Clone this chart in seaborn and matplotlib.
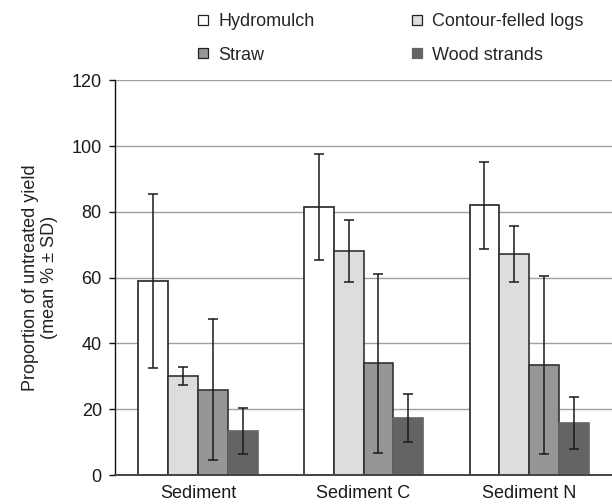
import matplotlib
matplotlib.use("Agg")
import matplotlib.pyplot as plt
import seaborn as sns
import pandas as pd
import numpy as np
from matplotlib.lines import Line2D

categories = ["Sediment", "Sediment C", "Sediment N"]
treatments = ["Hydromulch", "Contour-felled logs", "Straw", "Wood strands"]
means = {
    "Hydromulch": [59.0, 81.5, 82.0],
    "Contour-felled logs": [30.0, 68.0, 67.2],
    "Straw": [26.0, 34.0, 33.5],
    "Wood strands": [13.3, 17.3, 15.8],
}
sds = {
    "Hydromulch": [26.5, 16.0, 13.3],
    "Contour-felled logs": [2.7, 9.4, 8.4],
    "Straw": [21.5, 27.2, 27.1],
    "Wood strands": [7.0, 7.4, 7.8],
}
colors = ["#ffffff", "#dcdde0", "#95969a", "#636466"]
edges = ["#222222", "#333333", "#333333", "#636466"]

rows = []
for t in treatments:
    for c, m in zip(categories, means[t]):
        rows.append({"category": c, "treatment": t, "mean": m})
df = pd.DataFrame(rows)

sns.set_theme(style="white")
plt.rcParams["font.family"] = ["Liberation Sans", "DejaVu Sans"]

FS = 13
fig = plt.figure(figsize=(6.12, 5.04), dpi=100)
ax = fig.add_axes([0.188, 0.0575, 0.812, 0.783])

sns.barplot(data=df, x="category", y="mean", hue="treatment",
            hue_order=treatments, order=categories,
            palette=colors, errorbar=None, width=0.72, ax=ax,
            linewidth=1.2, legend=False, zorder=2)

for cont, t, ec in zip(ax.containers, treatments, edges):
    for p, sd in zip(cont.patches, sds[t]):
        p.set_edgecolor(ec)
        p.set_linewidth(1.2)
        xc = p.get_x() + p.get_width() / 2
        ax.errorbar(xc, p.get_height(), yerr=sd, fmt="none",
                    ecolor="#1a1a1a", elinewidth=1.1, capsize=3.5,
                    capthick=1.1, zorder=3)

ax.set_xlim(-0.5, 2.5)
ax.set_ylim(0, 120)
ax.set_yticks(np.arange(0, 121, 20))
ax.yaxis.grid(True, color="#a0a0a0", linewidth=1.0, zorder=0)
ax.set_axisbelow(True)
for s in ["top", "right"]:
    ax.spines[s].set_visible(False)
ax.spines["left"].set_color("#111111")
ax.spines["left"].set_linewidth(1.0)
ax.spines["bottom"].set_color("#444444")
ax.spines["bottom"].set_linewidth(1.4)
ax.tick_params(axis="y", left=True, length=4.5, width=1, color="#111111",
               labelsize=FS, pad=5, labelcolor="#1a1a1a")
ax.tick_params(axis="x", bottom=False, labelsize=FS, pad=1.5, labelcolor="#1a1a1a")
ax.set_xlabel("")
ax.set_ylabel("Proportion of untreated yield\n(mean % ± SD)", fontsize=FS,
              color="#222222", labelpad=10, linespacing=1.15)

handles = []
order = [0, 2, 1, 3]
for i in order:
    handles.append(Line2D([], [], marker="s", linestyle="none", markersize=7.2,
                          markerfacecolor=colors[i],
                          markeredgecolor=("#222222" if i < 3 else colors[i]),
                          markeredgewidth=0.9, label=treatments[i]))
fig.legend(handles=handles, ncol=2, loc="upper left",
           bbox_to_anchor=(197.6 / 612, 1 - 13.0 / 504), frameon=False,
           fontsize=FS, handlelength=0.6, handletextpad=0.53,
           columnspacing=5.4, labelspacing=0.92, borderaxespad=0,
           borderpad=0)

fig.savefig("out.png", dpi=100)
